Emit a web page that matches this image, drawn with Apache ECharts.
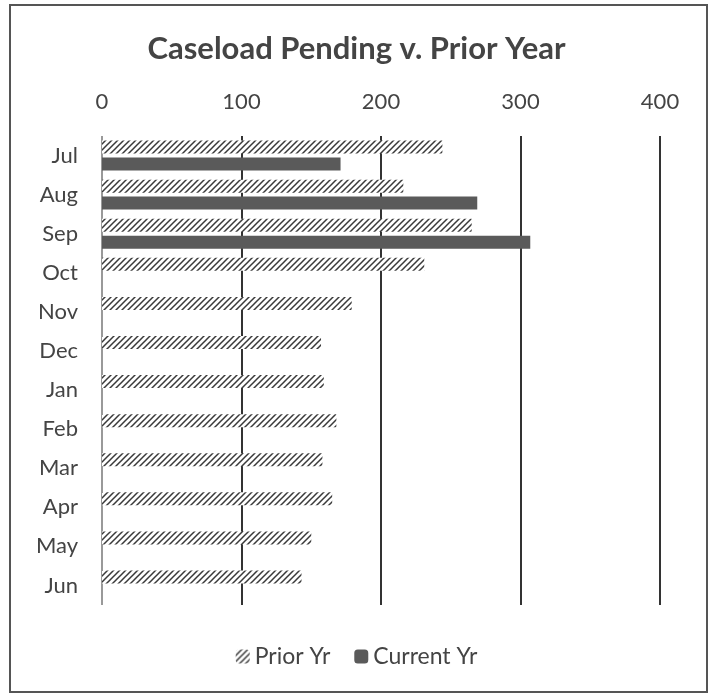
<!DOCTYPE html>
<html>
<head>
<meta charset="utf-8">
<script src="https://cdn.jsdelivr.net/npm/echarts@6/dist/echarts.min.js"></script>
<style>
html,body{margin:0;padding:0;background:#fff;}
#chart{width:713px;height:700px;}
</style>
</head>
<body>
<div id="chart"></div>
<script>
const months = ['Jul','Aug','Sep','Oct','Nov','Dec','Jan','Feb','Mar','Apr','May','Jun'];
const priorYr = [244, 216, 265, 231, 179, 157, 159, 168, 158, 165, 150, 143];
const currentYr = [171, 269, 307, null, null, null, null, null, null, null, null, null];
const xTicks = [0, 100, 200, 300, 400];

function hatch() {
  const c = document.createElement('canvas');
  c.width = 6; c.height = 6;
  const g = c.getContext('2d');
  g.fillStyle = '#ffffff';
  g.fillRect(0, 0, 6, 6);
  g.strokeStyle = '#3a3a3a';
  g.lineWidth = 1.5;
  g.beginPath();
  g.moveTo(-1, 7); g.lineTo(7, -1);
  g.moveTo(-4, 4); g.lineTo(4, -4);
  g.moveTo(2, 10); g.lineTo(10, 2);
  g.stroke();
  return c;
}

const chart = echarts.init(document.getElementById('chart'));
const font = 'Lato, "Open Sans", sans-serif';
chart.setOption({
  backgroundColor: '#ffffff',
  animation: false,
  title: {
    text: 'Caseload Pending v. Prior Year',
    left: 'center',
    top: 28,
    textStyle: {fontFamily: font, fontSize: 31, fontWeight: 'bold', color: '#444'}
  },
  graphic: [{
    type: 'rect',
    shape: {x: 10, y: 5, width: 697, height: 687},
    style: {fill: null, stroke: '#555', lineWidth: 2},
    silent: true
  }],
  legend: {
    bottom: 27,
    left: 'center',
    itemWidth: 14,
    itemHeight: 14,
    itemGap: 24,
    textStyle: {fontFamily: font, fontSize: 23, color: '#444'},
    data: ['Prior Yr', 'Current Yr']
  },
  grid: {left: 102, right: 53, top: 136, bottom: 95},
  xAxis: {
    type: 'value',
    position: 'top',
    min: xTicks[0],
    max: xTicks[xTicks.length - 1],
    interval: 100,
    axisLine: {show: false},
    axisTick: {show: false},
    axisLabel: {fontFamily: font, fontSize: 22, color: '#444', margin: 23},
    splitLine: {show: true, lineStyle: {color: ['#999', '#333', '#333', '#333', '#333'], width: 2}}
  },
  yAxis: {
    type: 'category',
    inverse: true,
    data: months,
    axisLine: {show: false},
    axisTick: {show: false},
    axisLabel: {fontFamily: font, fontSize: 22, color: '#444', margin: 24}
  },
  series: [
    {
      name: 'Prior Yr',
      type: 'bar',
      data: priorYr,
      barWidth: 13,
      barGap: '30%',
      itemStyle: {color: {image: hatch(), repeat: 'repeat'}}
    },
    {
      name: 'Current Yr',
      type: 'bar',
      data: currentYr,
      barWidth: 13,
      itemStyle: {color: '#5a5a5a'}
    }
  ]
});
</script>
</body>
</html>
